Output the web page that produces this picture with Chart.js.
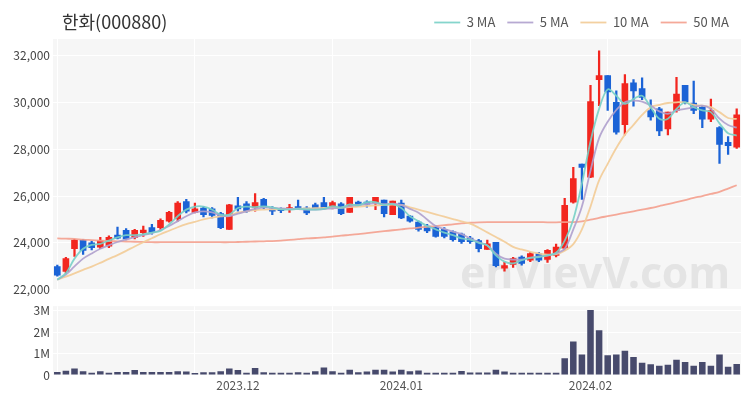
<!DOCTYPE html>
<html>
<head>
<meta charset="utf-8">
<script src="https://cdn.jsdelivr.net/npm/chart.js@4.4.1/dist/chart.umd.min.js"></script>
<style>
  html, body { margin: 0; padding: 0; background: #fff; }
  #wrap { position: relative; width: 750px; height: 400px; overflow: hidden; }
  #title { position: absolute; left: 62px; top: 8px; font: 18px 'Noto Sans CJK KR', 'Noto Sans', sans-serif; color: #333; }
  #priceChart { position: absolute; left: 0; top: 0; }
  #volumeChart { position: absolute; left: 0; top: 296px; }
</style>
</head>
<body>
<div id="wrap">
  <canvas id="priceChart" width="750" height="300"></canvas>
  <canvas id="volumeChart" width="750" height="104"></canvas>
  <div id="title">한화(000880)</div>
</div>
<script>
// trading days shown on the chart
const dates = [
  '2023-11-02','2023-11-03','2023-11-06','2023-11-07','2023-11-08','2023-11-09','2023-11-10',
  '2023-11-13','2023-11-14','2023-11-15','2023-11-16','2023-11-17','2023-11-20','2023-11-21',
  '2023-11-22','2023-11-23','2023-11-24','2023-11-27','2023-11-28','2023-11-29','2023-11-30',
  '2023-12-01','2023-12-04','2023-12-05','2023-12-06','2023-12-07','2023-12-08','2023-12-11',
  '2023-12-12','2023-12-13','2023-12-14','2023-12-15','2023-12-18','2023-12-19','2023-12-20',
  '2023-12-21','2023-12-22','2023-12-26','2023-12-27','2023-12-28',
  '2024-01-02','2024-01-03','2024-01-04','2024-01-05','2024-01-08','2024-01-09','2024-01-10',
  '2024-01-11','2024-01-12','2024-01-15','2024-01-16','2024-01-17','2024-01-18','2024-01-19',
  '2024-01-22','2024-01-23','2024-01-24','2024-01-25','2024-01-26','2024-01-29','2024-01-30',
  '2024-01-31',
  '2024-02-01','2024-02-02','2024-02-05','2024-02-06','2024-02-07','2024-02-08','2024-02-13',
  '2024-02-14','2024-02-15','2024-02-16','2024-02-19','2024-02-20','2024-02-21','2024-02-22',
  '2024-02-23','2024-02-26','2024-02-27','2024-02-28'
];
const monthStarts = ['2023-12-01', '2024-01-02', '2024-02-01'];

const opens = [22990,22780,23750,24120,24000,23820,23860,24330,24540,24240,24440,24650,24650,24930,25030,25760,25300,25490,25450,25250,
  24580,25580,25670,25510,25860,25450,25450,25420,25550,25490,25625,25720,25530,25670,25300,25740,25740,25720,25830,25210,
  25700,25140,24890,24720,24650,24580,24470,24375,24210,24100,23720,24030,22920,23080,23400,23260,23540,23300,23470,23780,
  25740,27360,26800,30970,31140,30000,29050,30830,30580,29650,29720,28860,29650,30720,29970,29790,29280,28920,28290,28080];
const highs = [23050,23380,24150,24150,24080,24240,24300,24680,24610,24580,24720,24790,25030,25350,25760,25860,25700,25550,25510,25300,
  25650,25950,25760,26110,25900,25550,25500,25650,25830,25550,25700,25950,25790,25720,25950,25790,25800,25950,25830,25790,
  25830,25170,24930,24790,24720,24650,24520,24420,24280,24150,24125,24030,23170,23380,23450,23600,23600,23720,23950,25900,
  27220,27360,30720,32190,31140,30490,31180,30970,31040,30110,29790,29580,31070,30720,30900,29860,30140,28960,28540,29720];
const lows = [22580,22700,23420,23510,23700,23750,23800,24170,24125,24170,24280,24375,24580,24890,24930,25280,25280,25110,25070,24610,
  24580,25350,25300,25350,25450,25210,25290,25300,25450,25210,25450,25450,25450,25200,25300,25580,25530,25420,25110,25210,
  25030,24890,24500,24440,24250,24210,24080,23980,23980,23620,23720,22980,22800,22950,23050,23200,23200,23170,23400,23680,
  25700,25860,26780,29860,29650,28640,28610,29830,30110,29240,28580,28610,29580,29930,29510,28920,29170,27390,27780,28030];
const closes = [22620,23330,24120,23680,23800,24100,24240,24200,24170,24540,24550,24440,24960,25300,25700,25350,25450,25210,25170,24650,
  25625,25450,25350,25720,25510,25350,25375,25510,25490,25280,25490,25490,25720,25250,25950,25625,25650,25950,25250,25790,
  25070,24930,24580,24510,24280,24280,24140,24050,24050,23750,23960,23030,23030,23330,23125,23540,23260,23680,23820,25600,
  26740,27220,30030,31140,30440,28720,30800,30490,30210,29375,28780,29580,30350,30030,29650,29280,29650,28200,28150,29470];

// moving averages as drawn on the reference
const ma3 = [22430,22710,23330,23750,23920,23960,24100,24240,24330,24330,24375,24440,24510,24790,25140,25420,25550,25550,25420,25210,
  25210,25490,25550,25530,25560,25520,25430,25420,25450,25430,25420,25450,25570,25500,25640,25600,25740,25740,25620,25660,
  25490,25140,24930,24720,24580,24440,24330,24190,24140,24000,23890,23470,23200,23125,23260,23360,23400,23470,23580,24100,
  25000,26530,28330,29720,30550,30280,29930,30140,30280,29790,29300,29300,29720,30000,29790,29650,29580,29100,28680,28580];
const ma5 = [22430,22650,23000,23330,23550,23750,23900,24040,24150,24250,24330,24420,24550,24720,24930,25140,25300,25350,25300,25170,
  25140,25250,25350,25450,25520,25500,25470,25450,25440,25420,25420,25440,25480,25500,25570,25620,25660,25700,25650,25680,
  25625,25450,25290,25000,24720,24600,24480,24375,24200,24030,23900,23540,23330,23290,23290,23375,23420,23460,23550,23750,
  24580,25550,27080,28470,29170,29670,30000,30070,30030,29860,29610,29510,29650,29720,29790,29860,29720,29300,29030,28920];
const ma10 = [22430,22560,22700,22850,22990,23150,23320,23480,23660,23850,24030,24200,24370,24520,24670,24800,24900,25000,25080,25130,
  25170,25290,25350,25400,25420,25430,25440,25450,25460,25470,25480,25490,25500,25510,25530,25550,25580,25600,25620,25630,
  25625,25520,25420,25320,25220,25120,25020,24920,24820,24650,24450,24250,24050,23830,23720,23620,23550,23500,23520,23670,
  23950,24580,25550,26670,27375,28050,28620,29040,29460,29790,29890,29970,30000,30000,29890,29860,29790,29580,29330,29290];
const ma50 = [24190,24180,24170,24140,24120,24100,24080,24070,24060,24050,24040,24030,24030,24030,24030,24030,24030,24030,24030,24030,
  24030,24040,24050,24060,24070,24080,24100,24130,24160,24190,24210,24240,24270,24310,24340,24375,24420,24460,24500,24540,
  24580,24620,24650,24690,24720,24760,24790,24830,24860,24880,24890,24890,24890,24890,24890,24890,24890,24880,24880,24890,
  24890,24920,24990,25070,25140,25210,25280,25350,25420,25490,25570,25650,25740,25830,25920,26000,26090,26180,26320,26460];

const volumes = [140000,200000,300000,180000,100000,170000,100000,140000,140000,230000,140000,140000,140000,140000,180000,160000,90000,130000,130000,170000,
  300000,230000,100000,330000,130000,100000,100000,100000,130000,100000,170000,350000,170000,100000,250000,130000,160000,250000,250000,160000,
  250000,170000,210000,110000,110000,110000,110000,190000,120000,120000,120000,250000,160000,100000,100000,100000,100000,100000,100000,780000,
  1560000,950000,3020000,2080000,920000,950000,1130000,840000,570000,500000,430000,480000,710000,600000,430000,600000,430000,950000,380000,510000];

const priceTicks = [22000, 24000, 26000, 28000, 30000, 32000];
const volumeTicks = [0, 1000000, 2000000, 3000000];

const UP = '#f2261f';
const DOWN = '#1b63d6';
const candleColors = closes.map((c, i) => c >= opens[i] ? UP : DOWN);

Chart.defaults.font.family = "'Noto Sans CJK KR', 'Noto Sans', sans-serif";
Chart.defaults.font.size = 12;
Chart.defaults.color = '#444';
Chart.defaults.animation = false;

// grey plot background
const plotBg = {
  id: 'plotBg',
  beforeDraw(chart) {
    const a = chart.chartArea;
    const ctx = chart.ctx;
    ctx.save();
    ctx.fillStyle = '#f6f6f6';
    ctx.fillRect(a.left, a.top, a.right - a.left, a.bottom - a.top);
    ctx.restore();
  }
};

// site watermark behind the candles
const watermark = {
  id: 'watermark',
  beforeDatasetsDraw(chart) {
    const a = chart.chartArea;
    const ctx = chart.ctx;
    const text = 'enVievV.com';
    ctx.save();
    ctx.beginPath();
    ctx.rect(a.left, a.top, a.right - a.left, a.bottom - a.top);
    ctx.clip();
    ctx.font = "bold 100px 'Noto Sans', sans-serif";
    const size = 100 * 270 / ctx.measureText(text).width;
    ctx.font = `bold ${size}px 'Noto Sans', sans-serif`;
    ctx.fillStyle = 'rgba(190,190,190,0.32)';
    ctx.textBaseline = 'alphabetic';
    ctx.fillText(text, 460, 288);
    ctx.restore();
  }
};

const xGrid = {
  offset: false,
  drawTicks: false,
  color: ctx => (ctx.index % 16 === 0 ? '#ffffff' : 'rgba(0,0,0,0)')
};

function maLine(label, data, color) {
  return {
    type: 'line',
    label: label,
    data: data,
    borderColor: color,
    backgroundColor: color,
    borderWidth: 1.8,
    pointRadius: 0,
    tension: 0.35,
    order: 1
  };
}

new Chart(document.getElementById('priceChart'), {
  type: 'bar',
  data: {
    labels: dates,
    datasets: [
      maLine('3 MA', ma3, 'rgba(120,208,198,0.9)'),
      maLine('5 MA', ma5, 'rgba(175,160,205,0.9)'),
      maLine('10 MA', ma10, 'rgba(242,205,155,0.95)'),
      maLine('50 MA', ma50, 'rgba(244,160,142,0.9)'),
      {
        label: 'body',
        data: opens.map((o, i) => [o, closes[i]]),
        backgroundColor: candleColors,
        barThickness: 6,
        minBarLength: 1.5,
        grouped: false,
        order: 2
      },
      {
        label: 'wick',
        data: lows.map((l, i) => [l, highs[i]]),
        backgroundColor: candleColors,
        barThickness: 1.6,
        grouped: false,
        order: 3
      }
    ]
  },
  options: {
    responsive: false,
    layout: { padding: { top: 4, right: 9, bottom: 0, left: 0 } },
    plugins: {
      tooltip: { enabled: false },
      legend: {
        position: 'top',
        align: 'end',
        labels: {
          usePointStyle: true,
          pointStyle: 'line',
          pointStyleWidth: 26,
          color: '#555',
          padding: 12,
          font: { size: 13 },
          filter: item => item.text.endsWith('MA')
        }
      }
    },
    scales: {
      x: {
        ticks: { display: false },
        grid: xGrid,
        border: { display: false },
        afterFit: s => { s.height = 8; }
      },
      y: {
        min: 22000,
        max: 32700,
        afterBuildTicks: s => { s.ticks = priceTicks.map(v => ({ value: v })); },
        afterFit: s => { s.width = 53; },
        ticks: { padding: 3, color: '#444', callback: v => v.toLocaleString('en-US') },
        grid: { color: '#ffffff', drawTicks: false },
        border: { display: false }
      }
    }
  },
  plugins: [plotBg, watermark]
});

new Chart(document.getElementById('volumeChart'), {
  type: 'bar',
  data: {
    labels: dates,
    datasets: [{
      label: 'Volume',
      data: volumes,
      backgroundColor: '#474a6c',
      barPercentage: 0.8,
      categoryPercentage: 0.95
    }]
  },
  options: {
    responsive: false,
    layout: { padding: { top: 2, right: 9, bottom: 0, left: 0 } },
    plugins: { legend: { display: false }, tooltip: { enabled: false } },
    scales: {
      x: {
        grid: xGrid,
        border: { display: false },
        afterFit: s => { s.height = 25; },
        ticks: {
          autoSkip: false,
          maxRotation: 0,
          padding: 3,
          color: '#555',
          callback: (v, i) => monthStarts.includes(dates[i]) ? dates[i].slice(0, 7).replace('-', '.') : ''
        }
      },
      y: {
        min: 0,
        max: 3200000,
        afterBuildTicks: s => { s.ticks = volumeTicks.map(v => ({ value: v })); },
        afterFit: s => { s.width = 53; },
        ticks: { padding: 3, color: '#444', callback: v => v === 0 ? '0' : (v / 1000000) + 'M' },
        grid: { color: '#ffffff', drawTicks: false },
        border: { display: false }
      }
    }
  },
  plugins: [plotBg]
});
</script>
</body>
</html>
